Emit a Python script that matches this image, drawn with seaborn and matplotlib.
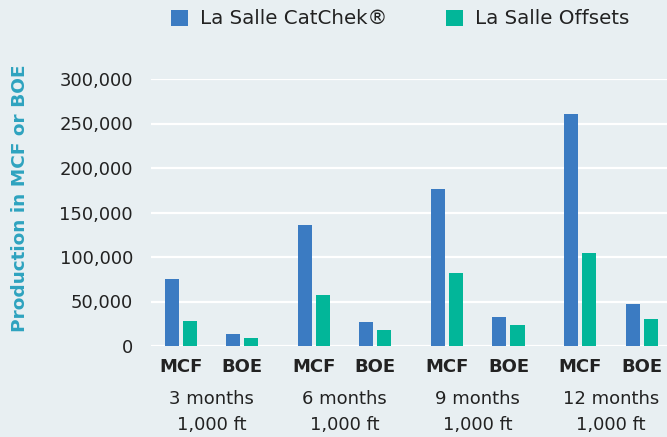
import pandas as pd
import numpy as np
import matplotlib.pyplot as plt
import matplotlib.ticker as mticker
import seaborn as sns

# dados
unidades = ['MCF', 'BOE', 'MCF', 'BOE', 'MCF', 'BOE', 'MCF', 'BOE']
periodos = ['3 months\n1,000 ft', '6 months\n1,000 ft', '9 months\n1,000 ft', '12 months\n1,000 ft']
catchek = [75000, 13000, 136000, 26500, 176000, 33000, 261000, 47000]
offsets = [28000, 8500, 57000, 17500, 82000, 24000, 105000, 30000]
series = ['La Salle CatChek®', 'La Salle Offsets']

azul = '#3b7bc2'
verde = '#02b699'
fundo = '#e8eff2'
texto = '#222222'

# posicoes: espaco extra entre os grupos de meses
pos = [i + 0.175 * (i // 2) for i in range(len(unidades))]

df = pd.DataFrame({
    'pos': pos * 2,
    'serie': [series[0]] * len(pos) + [series[1]] * len(pos),
    'valor': catchek + offsets,
})

sns.set_style('white', {'axes.facecolor': fundo, 'figure.facecolor': fundo})
plt.rcParams['font.family'] = ['DejaVu Sans']

fig, ax = plt.subplots(figsize=(6.67, 4.37), dpi=100)
fig.subplots_adjust(left=151 / 667, right=1.0, top=1 - 79 / 437, bottom=1 - 346 / 437)

sns.barplot(data=df, x='pos', y='valor', hue='serie', hue_order=series,
            native_scale=True, width=0.59, gap=0.22, palette=[azul, verde],
            saturation=1, linewidth=0, ax=ax)

ax.set_ylim(0, 300000)
ax.set_xlim(-0.49, 7.94)
ax.yaxis.set_major_locator(mticker.MultipleLocator(50000))
ax.yaxis.set_major_formatter(mticker.FuncFormatter(lambda v, p: f'{v:,.0f}'))
ax.grid(axis='y', color='white', linewidth=1.6)
ax.set_axisbelow(True)
sns.despine(ax=ax, left=True, bottom=True, top=True, right=True)

ax.set_xticks(pos)
ax.set_xticklabels(unidades, fontweight='bold', fontsize=13, color=texto)
ax.tick_params(axis='x', length=0, pad=9)
ax.tick_params(axis='y', length=0, pad=13, labelsize=13, labelcolor=texto)
ax.set_xlabel('')
ax.set_ylabel('Production in MCF or BOE', fontsize=13.3, fontweight='bold',
              color='#2ea3bf')
ax.yaxis.set_label_coords(-0.237, 0.552)

# rotulos dos periodos abaixo dos pares MCF/BOE
centros = [(pos[i] + pos[i + 1]) / 2 for i in range(0, len(pos), 2)]
sec = ax.secondary_xaxis('bottom')
sec.set_xticks(centros)
sec.set_xticklabels(periodos, fontsize=13, color=texto, linespacing=1.55)
sec.tick_params(length=0, pad=32)
sec.spines['bottom'].set_visible(False)

handles, labels = ax.get_legend_handles_labels()
ax.legend_.remove()
fig.legend(handles, labels, loc='center', bbox_to_anchor=(0.6, 1 - 19 / 437),
           ncol=2, frameon=False, fontsize=14.3, handlelength=0.85, handleheight=0.85,
           handletextpad=0.6, columnspacing=3.0, labelcolor=texto)

plt.savefig('out.png', dpi=100, facecolor=fundo)
